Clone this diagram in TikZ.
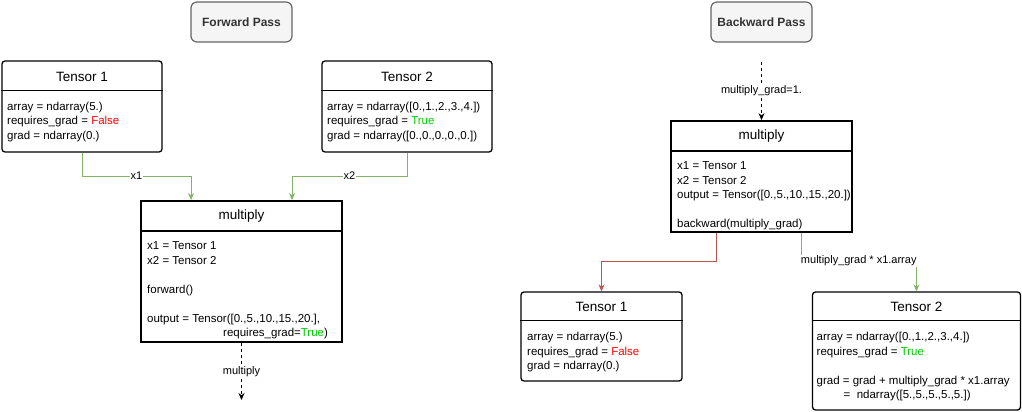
\documentclass[tikz,border=0pt]{standalone}
\usepackage{fontspec}
\setmainfont{Liberation Sans}
\usetikzlibrary{arrows.meta,positioning}
\definecolor{edgegreen}{HTML}{82B366}
\definecolor{edgered}{HTML}{B85450}
\definecolor{truegreen}{HTML}{00CC00}
\definecolor{passfill}{HTML}{F5F5F5}
\definecolor{passdraw}{HTML}{666666}
\definecolor{passtext}{HTML}{333333}

\begin{document}
\begin{tikzpicture}[x=1pt,y=-1pt,
  passbox/.style={draw=passdraw,fill=passfill,rounded corners=6pt,line width=1.2pt,
    minimum width=101pt,minimum height=40pt,text=passtext,
    font=\fontsize{12}{14}\selectfont\bfseries},
  tensorbox/.style={draw,rounded corners=3pt,line width=1.3pt},
  opbox/.style={draw,line width=1.8pt},
  title/.style={font=\fontsize{13.5}{16}\selectfont},
  body/.style={anchor=north west,inner sep=0pt,align=left,
    font=\fontsize{11.5}{14.5}\selectfont},
  lbl/.style={fill=white,inner sep=1pt,font=\fontsize{11}{13}\selectfont},
  tip/.style={-{Stealth[length=7pt,width=6pt]}},
  fwd/.style={tip,draw=edgegreen,line width=0.8pt},
  nograd/.style={tip,draw=edgered,line width=0.8pt},
  flow/.style={tip,line width=0.8pt,dash pattern=on 3pt off 3pt}]
\def\True{\textcolor{truegreen}{True}}
\def\False{\textcolor{red}{False}}
\useasboundingbox (0,0) rectangle (1022,412);

\node[passbox] (fpass) at (241.5,22) {Forward Pass};
\node[passbox] (bpass) at (761.5,22) {Backward Pass};

\node[tensorbox,minimum width=160pt,minimum height=91pt] (ft1) at (82,106.5) {};
\node[title] (ft1title) at (82,76.5) {Tensor 1};
\draw[line width=1.3pt] ([yshift=-30pt]ft1.north west) -- ([yshift=-30pt]ft1.north east);
\node[body] (ft1body) at (7,101.5) {array = ndarray(5.)\\requires\_grad = \False\\grad = ndarray(0.)};

\node[tensorbox,minimum width=170pt,minimum height=91pt] (ft2) at (407,106.5) {};
\node[title] (ft2title) at (407,76.5) {Tensor 2};
\draw[line width=1.3pt] ([yshift=-30pt]ft2.north west) -- ([yshift=-30pt]ft2.north east);
\node[body] (ft2body) at (327,101.5) {array = ndarray([0.,1.,2.,3.,4.])\\requires\_grad = \True\\grad = ndarray([0.,0.,0.,0.,0.])};

\node[opbox,minimum width=201pt,minimum height=141pt] (mf) at (241.5,271.5) {};
\node[title] (mftitle) at (241.5,216.5) {multiply};
\draw[line width=1.8pt] ([yshift=-31pt]mf.north west) -- ([yshift=-31pt]mf.north east);
\node[body] (mfbody) at (147,241.5) {x1 = Tensor 1\\x2 = Tensor 2\\[14.5pt]forward()\\[14.5pt]output = Tensor([0.,5.,10.,15.,20.],\\\hspace*{76pt}requires\_grad=\True)};

\draw[fwd] (ft1.south) -- (ft1.south |- 0,176) -| ([xshift=-50.5pt]mf.north) node[lbl,pos=0.25] {x1};
\draw[fwd] (ft2.south) -- (ft2.south |- 0,176) -| ([xshift=50.5pt]mf.north) node[lbl,pos=0.25] {x2};
\coordinate (mfout) at (241.5,400);
\draw[flow] (mf.south) -- (mfout) node[lbl,midway] {multiply};

\coordinate (mbin) at (761.5,62);
\node[opbox,minimum width=181pt,minimum height=111pt] (mb) at (761.5,176.5) {};
\node[title] (mbtitle) at (761.5,136.5) {multiply};
\draw[line width=1.8pt] ([yshift=-31pt]mb.north west) -- ([yshift=-31pt]mb.north east);
\node[body] (mbbody) at (677,161.5) {x1 = Tensor 1\\x2 = Tensor 2\\output = Tensor([0.,5.,10.,15.,20.])\\[14.5pt]backward(multiply\_grad)};
\draw[flow] (mbin) -- (mb.north) node[lbl,midway] {multiply\_grad=1.};

\node[tensorbox,minimum width=161pt,minimum height=89pt] (bt1) at (601.5,336.5) {};
\node[title] (bt1title) at (601.5,306.5) {Tensor 1};
\draw[line width=1.3pt] ([yshift=-29pt]bt1.north west) -- ([yshift=-29pt]bt1.north east);
\node[body] (bt1body) at (527,332) {array = ndarray(5.)\\requires\_grad = \False\\grad = ndarray(0.)};

\node[tensorbox,minimum width=208pt,minimum height=118pt] (bt2) at (916.5,351) {};
\node[title] (bt2title) at (916.5,306.5) {Tensor 2};
\draw[line width=1.3pt] ([yshift=-29pt]bt2.north west) -- ([yshift=-29pt]bt2.north east);
\node[body] (bt2body) at (816.5,332) {array = ndarray([0.,1.,2.,3.,4.])\\requires\_grad = \True\\[14.5pt]grad = grad + multiply\_grad * x1.array\\\hspace*{27pt}= \ ndarray([5.,5.,5.,5.,5.])};

\draw[nograd] ([xshift=-45.5pt]mb.south) -- ([xshift=-45.5pt]mb.south |- 0,261) -| (bt1.north);
\draw[fwd] ([xshift=39.5pt]mb.south) -- ([xshift=39.5pt]mb.south |- 0,261) -| (bt2.north) node[lbl,pos=0.25] {multiply\_grad * x1.array};
\end{tikzpicture}
\end{document}
